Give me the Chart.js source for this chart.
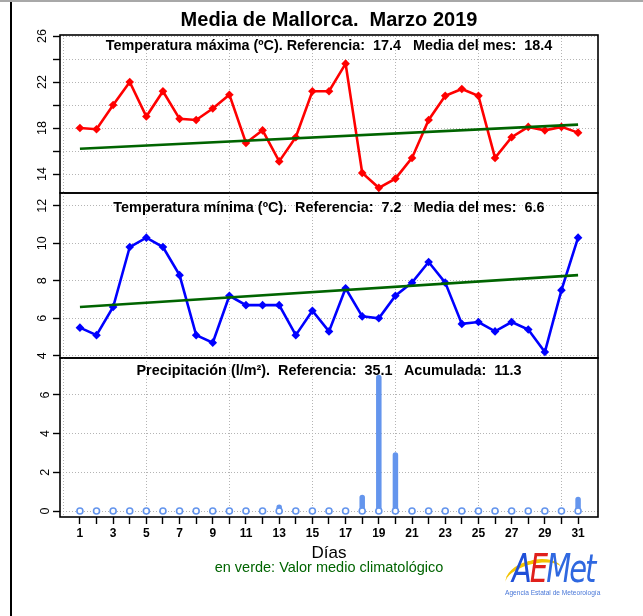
<!DOCTYPE html>
<html lang="es">
<head>
<meta charset="utf-8">
<title>Media de Mallorca. Marzo 2019</title>
<script src="https://cdn.jsdelivr.net/npm/chart.js@4.4.1/dist/chart.umd.min.js"></script>
<style>
  html, body { margin: 0; padding: 0; background: #fff; }
  #page { position: relative; width: 643px; height: 616px; overflow: hidden; font-family: "Liberation Sans", Arial, sans-serif; }
  #page canvas { position: absolute; left: 0; top: 0; }
  .edge-left { position: absolute; left: 10px; top: 0; width: 1.5px; height: 616px; background: #000; }
  .edge-top { position: absolute; left: 0; top: 0; width: 643px; height: 2px; background: #a8a8a8; }
  .txt { position: absolute; left: 60px; width: 538px; text-align: center; white-space: pre; color: #000; }
  .main { top: 8px; font-size: 20px; line-height: 23px; font-weight: bold; }
  .panel { font-size: 14.4px; line-height: 17px; font-weight: bold; }
  .axis-title { top: 543px; font-size: 17px; line-height: 20px; }
  .note { top: 559px; font-size: 14.5px; line-height: 17px; color: #006400; }
  #logo { position: absolute; left: 505px; top: 545px; width: 100px; height: 60px; }
  #logo .word { position: absolute; left: 7px; top: 1px; font-family: "DejaVu Sans", sans-serif; font-weight: 200; font-size: 29px; line-height: 34px; font-style: italic; letter-spacing: -2px; transform: scale(1, 1.35); transform-origin: left top; }
  #logo .swoosh { position: absolute; left: 0px; top: 15px; width: 58px; height: 28px; border-top: 4px solid #f3c300; border-radius: 50%; transform: rotate(-14deg); }
  #logo .agency { position: absolute; left: 0; top: 44px; font-size: 6.6px; line-height: 8px; color: #4a78d8; white-space: nowrap; }
</style>
</head>
<body>
<div id="page">
  <div class="edge-left"></div>
  <div class="edge-top"></div>
  <canvas id="chart-max" width="643" height="616"></canvas>
  <canvas id="chart-min" width="643" height="616"></canvas>
  <canvas id="chart-prec" width="643" height="616"></canvas>

  <div class="txt main">Media de Mallorca.  Marzo 2019</div>
  <div class="txt panel" style="top:37px">Temperatura máxima (ºC). Referencia:  17.4   Media del mes:  18.4</div>
  <div class="txt panel" style="top:199px">Temperatura mínima (ºC).  Referencia:  7.2   Media del mes:  6.6</div>
  <div class="txt panel" style="top:362px">Precipitación (l/m²).  Referencia:  35.1   Acumulada:  11.3</div>
  <div class="txt axis-title">Días</div>
  <div class="txt note">en verde: Valor medio climatológico</div>

  <div id="logo">
    <div class="swoosh"></div>
    <div class="word"><span style="color:#1f4fd8">A</span><span style="color:#e0201b">E</span><span style="color:#2f68e0">Met</span></div>
    <div class="agency">Agencia Estatal de Meteorología</div>
  </div>
</div>

<script>
// Days of March 2019
const days = [1, 2, 3, 4, 5, 6, 7, 8, 9, 10, 11, 12, 13, 14, 15, 16, 17, 18, 19, 20, 21, 22, 23, 24, 25, 26, 27, 28, 29, 30, 31];

// Temperatura maxima (ºC)
const tmax = [18.0, 17.9, 20.0, 22.0, 19.0, 21.2, 18.8, 18.7, 19.7, 20.9, 16.7, 17.8, 15.1, 17.2, 21.2, 21.2,
              23.6, 14.1, 12.8, 13.6, 15.4, 18.7, 20.8, 21.4, 20.8, 15.4, 17.2, 18.1, 17.8, 18.1, 17.6];

// Temperatura minima (ºC)
const tmin = [5.5, 5.1, 6.6, 9.8, 10.3, 9.8, 8.3, 5.1, 4.7, 7.2, 6.7, 6.7, 6.7, 5.1, 6.4, 5.3,
              7.6, 6.1, 6.0, 7.2, 7.9, 9.0, 7.9, 5.7, 5.8, 5.3, 5.8, 5.4, 4.2, 7.5, 10.3];

// Precipitacion (l/m2)
const precip = [0, 0, 0, 0, 0, 0, 0, 0, 0, 0, 0, 0, 0.2, 0, 0, 0,
                0, 0.7, 6.9, 2.9, 0, 0, 0, 0, 0, 0, 0, 0, 0, 0, 0.6];

// Valor medio climatologico (green line), first and last day
const climDays = [1, 31];
const tmaxClim = [16.2, 18.3];
const tminClim = [6.6, 8.3];

// Axis ticks and labels
const xGridDays = [0, 5, 10, 15, 20, 25, 30];
const xTickDays = [0].concat(days);
const xTickLabels = [1, 3, 5, 7, 9, 11, 13, 15, 17, 19, 21, 23, 25, 27, 29, 31];
const tmaxTicks = [14, 16, 18, 20, 22, 24, 26];
const tmaxLabels = [14, 18, 22, 26];
const tminTicks = [4, 6, 8, 10, 12];
const tminLabels = [4, 6, 8, 10, 12];
const precTicks = [0, 2, 4, 6];
const precLabels = [0, 2, 4, 6];

const GRID = '#b4b4b4';
const NONE = 'rgba(0,0,0,0)';
const RED = '#ff0000';
const BLUE = '#0000ff';
const GREEN = '#006400';
const RAIN = '#6495ed';

Chart.defaults.font.family = "'Liberation Sans', Arial, sans-serif";
Chart.defaults.color = '#000';

// black frame around every panel, like R's box()
const boxPlugin = {
    id: 'box',
    afterDatasetsDraw(chart) {
        const {ctx, chartArea: a} = chart;
        ctx.save();
        ctx.strokeStyle = '#000';
        ctx.lineWidth = 1.6;
        ctx.strokeRect(a.left, a.top, a.right - a.left, a.bottom - a.top);
        ctx.restore();
    }
};

const points = (xs, ys) => xs.map((x, i) => ({ x, y: ys[i] }));

function xAxis(withTicks) {
    return {
        type: 'linear',
        min: -0.2,
        max: 32.2,
        afterBuildTicks: s => { s.ticks = (withTicks ? xTickDays : xGridDays).map(v => ({ value: v })); },
        afterFit: s => { s.height = withTicks ? 30 : 0; },
        grid: {
            color: c => (c.tick && c.tick.value % 5 === 0) ? GRID : NONE,
            lineWidth: 1,
            drawTicks: withTicks,
            tickColor: c => (c.tick && c.tick.value === 0) ? NONE : '#000',
            tickLength: 7,
            tickWidth: 1.4,
            tickBorderDash: []
        },
        border: { display: false, dash: [1, 2] },
        ticks: {
            display: withTicks,
            autoSkip: false,
            maxRotation: 0,
            padding: 2,
            font: { size: 12, weight: 'bold' },
            callback: v => xTickLabels.includes(v) ? String(v) : ''
        }
    };
}

function yAxis(min, max, ticks, labels) {
    return {
        min,
        max,
        afterBuildTicks: s => { s.ticks = ticks.map(v => ({ value: v })); },
        afterFit: s => { s.width = 60; },
        grid: {
            color: GRID,
            lineWidth: 1,
            tickColor: '#000',
            tickLength: 7,
            tickWidth: 1.4,
            tickBorderDash: []
        },
        border: { display: false, dash: [1, 2] },
        ticks: {
            minRotation: 90,
            maxRotation: 90,
            crossAlign: 'center',
            padding: 4,
            font: { size: 12.5 },
            callback: v => labels.includes(v) ? String(v) : ''
        }
    };
}

function panel(id, top, bottom, xWithTicks, y, datasets) {
    return new Chart(document.getElementById(id), {
        type: 'line',
        data: { datasets },
        options: {
            responsive: false,
            animation: false,
            events: [],
            layout: { padding: { left: 0, right: 45, top, bottom } },
            plugins: { legend: { display: false }, tooltip: { enabled: false } },
            scales: { x: xAxis(xWithTicks), y }
        },
        plugins: [boxPlugin]
    });
}

const climLine = values => ({
    label: 'Valor medio climatológico',
    data: points(climDays, values),
    borderColor: GREEN,
    borderWidth: 2.6,
    pointRadius: 0
});

const tempLine = (label, values, color) => ({
    label,
    data: points(days, values),
    borderColor: color,
    backgroundColor: color,
    borderWidth: 2.6,
    tension: 0,
    pointStyle: 'rectRot',
    pointRadius: 4.3,
    pointBorderWidth: 0
});

panel('chart-max', 35, 616 - 193, false, yAxis(12.35, 26.09, tmaxTicks, tmaxLabels), [
    climLine(tmaxClim),
    tempLine('Temperatura máxima', tmax, RED)
]);

panel('chart-min', 193, 616 - 358, false, yAxis(3.88, 12.68, tminTicks, tminLabels), [
    climLine(tminClim),
    tempLine('Temperatura mínima', tmin, BLUE)
]);

// rain drawn as vertical strokes with round caps (R type = "h")
const rainStrokes = [];
days.forEach((d, i) => {
    if (precip[i] > 0) rainStrokes.push({ x: d, y: 0 }, { x: d, y: precip[i] }, { x: d, y: null });
});

panel('chart-prec', 358, 616 - 517 - 30, true, yAxis(-0.31, 7.91, precTicks, precLabels), [
    {
        label: 'Día',
        data: points(days, days.map(() => 0)),
        showLine: false,
        pointStyle: 'circle',
        pointRadius: 3,
        pointBorderWidth: 1.6,
        pointBorderColor: RAIN,
        pointBackgroundColor: '#fff'
    },
    {
        label: 'Precipitación',
        data: rainStrokes,
        borderColor: RAIN,
        borderWidth: 5.5,
        borderCapStyle: 'round',
        spanGaps: false,
        pointRadius: 0
    }
]);
</script>
</body>
</html>
